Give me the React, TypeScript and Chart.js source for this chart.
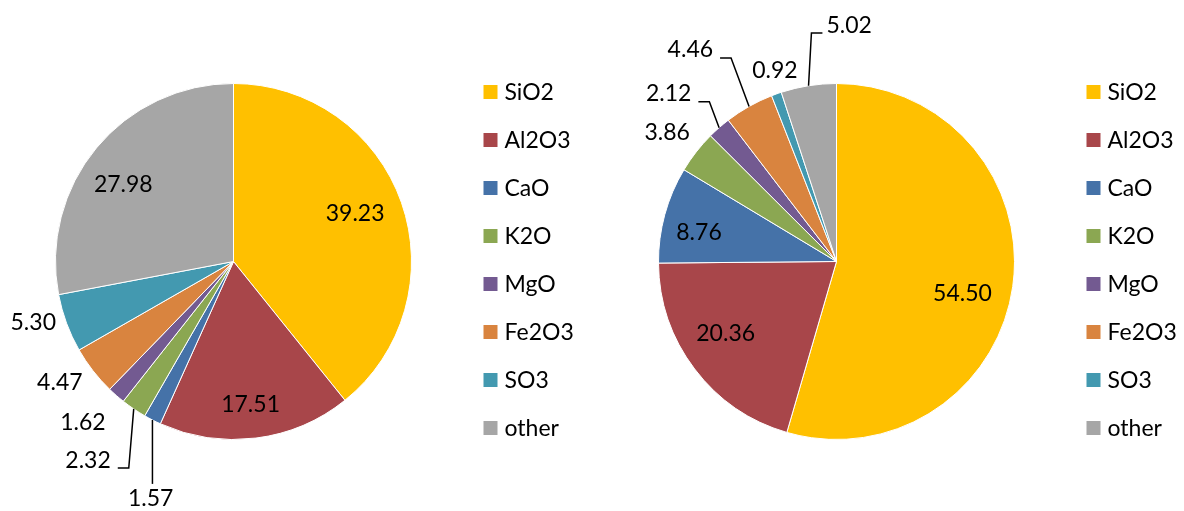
import React, { useEffect, useRef } from "react";
import { Chart, registerables } from "chart.js";

Chart.register(...registerables);

const categories = ["SiO2", "Al2O3", "CaO", "K2O", "MgO", "Fe2O3", "SO3", "other"];
const leftValues = [39.23, 17.51, 1.57, 2.32, 1.62, 4.47, 5.3, 27.98];
const rightValues = [54.5, 20.36, 8.76, 3.86, 2.12, 4.46, 0.92, 5.02];
const sliceColors = ["#FFC000", "#A8464A", "#4572A8", "#8BA752", "#735A91", "#D9843F", "#4399B0", "#A6A6A6"];

type LabelPlace = { out?: boolean; dx: number; dy: number; leader?: "side" | "below" };

const leftPlacement: LabelPlace[] = [
  { dx: -6, dy: -3 },
  { dx: 0, dy: 9 },
  { out: true, dx: 11, dy: 54, leader: "below" },
  { out: true, dx: -30, dy: 28, leader: "side" },
  { out: true, dx: -15, dy: 6 },
  { out: true, dx: -11, dy: -5 },
  { out: true, dx: -7, dy: -10 },
  { dx: -6, dy: 9 },
];
const rightPlacement: LabelPlace[] = [
  { dx: -8, dy: 13 },
  { dx: -3, dy: -10 },
  { dx: -7, dy: 7 },
  { out: true, dx: -7, dy: -2 },
  { out: true, dx: -32, dy: -13, leader: "side" },
  { out: true, dx: -45, dy: -32, leader: "side" },
  { out: true, dx: 8, dy: 3 },
  { out: true, dx: 45, dy: -32, leader: "side" },
];

const FONT = "23px Lato, 'Open Sans', sans-serif";

const labelsPlugin = {
  id: "pieLabels",
  afterDraw(chart: any) {
    const ctx: CanvasRenderingContext2D = chart.ctx;
    const meta = chart.getDatasetMeta(0);
    const values: number[] = chart.data.datasets[0].data;
    const placement: LabelPlace[] = chart.options.plugins.pieLabels.placement;
    ctx.save();
    ctx.font = FONT;
    ctx.fillStyle = "#000";
    ctx.strokeStyle = "#000";
    ctx.lineWidth = 1.5;
    ctx.textAlign = "center";
    ctx.textBaseline = "middle";
    let cxPie = 0;
    meta.data.forEach((arc: any, i: number) => {
      const p = placement[i];
      const mid = (arc.startAngle + arc.endAngle) / 2;
      const R = arc.outerRadius;
      cxPie = arc.x;
      const dirx = Math.cos(mid);
      const diry = Math.sin(mid);
      const r = p.out ? R + 28 : R * 0.76;
      const lx = arc.x + dirx * r + p.dx;
      const ly = arc.y + diry * r + p.dy;
      const text = values[i].toFixed(2);
      const w = ctx.measureText(text).width;
      ctx.fillText(text, lx, ly);
      if (p.leader) {
        const ex = arc.x + dirx * R;
        const ey = arc.y + diry * R;
        ctx.beginPath();
        ctx.moveTo(ex, ey);
        if (p.leader === "below") {
          ctx.lineTo(ex, ly - 15);
        } else if (lx < ex) {
          const right = lx + w / 2;
          ctx.lineTo(right + 18, ly + 8);
          ctx.lineTo(right + 7, ly + 8);
        } else {
          const left = lx - w / 2;
          ctx.lineTo(left - 15, ly + 7);
          ctx.lineTo(left - 4, ly + 7);
        }
        ctx.stroke();
      }
    });
    // legend
    const lgX = cxPie + 250;
    const labels: string[] = chart.data.labels;
    const colors: string[] = chart.data.datasets[0].backgroundColor;
    ctx.textAlign = "left";
    labels.forEach((lab, i) => {
      const y = 92 + i * 48;
      ctx.fillStyle = colors[i];
      ctx.fillRect(lgX, y - 7, 14, 14);
      ctx.fillStyle = "#000";
      ctx.fillText(lab, lgX + 21, y + 1);
    });
    ctx.restore();
  },
};

function PieChart({ values, placement, padLeft }: { values: number[]; placement: LabelPlace[]; padLeft: number }) {
  const ref = useRef<HTMLCanvasElement>(null);
  useEffect(() => {
    let chart: Chart | null = null;
    let cancelled = false;
    const make = () => {
      if (cancelled || !ref.current) return;
      chart = new Chart(ref.current, {
        type: "pie",
        data: {
          labels: categories,
          datasets: [
            {
              data: values,
              backgroundColor: sliceColors,
              borderColor: "#ffffff",
              borderWidth: 1,
              hoverOffset: 0,
              offset: 0,
            },
          ],
        },
        options: {
          responsive: false,
          animation: false,
          devicePixelRatio: 1,
          events: [],
          layout: { padding: { left: padLeft, top: 83, right: 592 - padLeft - 357, bottom: 511 - 83 - 357 } },
          plugins: {
            legend: { display: false },
            tooltip: { enabled: false },
            pieLabels: { placement },
          } as any,
        },
        plugins: [labelsPlugin],
      });
    };
    const fontsAny: any = (document as any).fonts;
    if (fontsAny && fontsAny.load) {
      fontsAny.load(FONT).then(make, make);
    } else {
      make();
    }
    return () => {
      cancelled = true;
      if (chart) chart.destroy();
    };
  }, [values, placement, padLeft]);
  return <canvas ref={ref} width={592} height={511} style={{ display: "block", width: 592, height: 511 }} />;
}

export default function App() {
  return (
    <div style={{ position: "fixed", left: 0, top: 0, width: 1184, height: 511, background: "#fff", display: "flex" }}>
      <PieChart values={leftValues} placement={leftPlacement} padLeft={55} />
      <PieChart values={rightValues} placement={rightPlacement} padLeft={66} />
    </div>
  );
}
